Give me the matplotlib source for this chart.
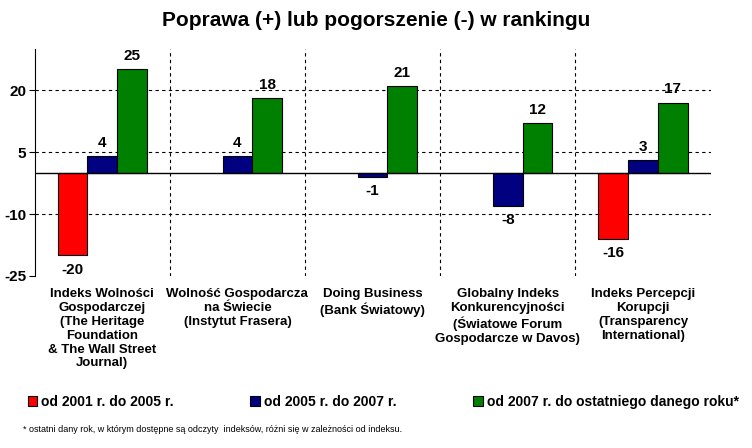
import matplotlib
matplotlib.use('Agg')
import matplotlib.pyplot as plt
import numpy as np

plt.rcParams['font.family'] = ['Liberation Sans', 'DejaVu Sans']

categories = ['Indeks Wolności\nGospodarczej\n(The Heritage\nFoundation\n& The Wall Street\nJournal)',
              'Wolność Gospodarcza\nna Świecie\n(Instytut Frasera)',
              'Doing Business\n(Bank Światowy)',
              'Globalny Indeks\nKonkurencyjności\n(Światowe Forum\nGospodarcze w Davos)',
              'Indeks Percepcji\nKorupcji\n(Transparency\nInternational)']
series_names = ['od 2001 r. do 2005 r.', 'od 2005 r. do 2007 r.',
                'od 2007 r. do ostatniego danego roku*']
s2001 = [-20, None, None, None, -16]
s2005 = [4, 4, -1, -8, 3]
s2007 = [25, 18, 21, 12, 17]
colors = ['#ff0000', '#000080', '#008000']
yticks = [20, 5, -10, -25]

fig = plt.figure(figsize=(7.52, 4.48), dpi=100)
ax = fig.add_axes([0.046, 0.384, 0.899, 0.507])
x = np.arange(len(categories))
w = 0.22
for i, (vals, c, name) in enumerate(zip([s2001, s2005, s2007], colors, series_names)):
    xs = [xi + (i - 1) * w for xi, v in zip(x, vals) if v is not None]
    vs = [v for v in vals if v is not None]
    ax.bar(xs, vs, w, color=c, edgecolor='black', linewidth=0.8, label=name, zorder=3)
    for xx, v in zip(xs, vs):
        ax.text(xx, v + (1.5 if v >= 0 else -1.8), str(v), ha='center',
                va='bottom' if v >= 0 else 'top', fontsize=11, fontweight='bold')

ax.set_xlim(-0.5, len(categories) - 0.5)
ax.set_ylim(-25, 30)
ax.set_yticks(yticks)
ax.set_yticklabels([str(t) for t in yticks], fontsize=11, fontweight='bold')
for t in yticks[:-1]:
    ax.axhline(t, color='black', linestyle=(0, (3, 3)), linewidth=0.8, zorder=1)
for xi in x[:-1]:
    ax.axvline(xi + 0.5, color='black', linestyle=(0, (3, 3)), linewidth=0.8, zorder=1)
ax.axhline(0, color='black', linewidth=1, zorder=4)
ax.set_xticks([])
for s in ['top', 'right', 'bottom']:
    ax.spines[s].set_visible(False)
ax.tick_params(axis='y', length=4, pad=2)
for xi, cat in zip(x, categories):
    ax.text(xi, -28, cat, ha='center', va='top', fontsize=9.5, fontweight='bold',
            linespacing=1.2)

fig.suptitle('Poprawa (+) lub pogorszenie (-) w rankingu', x=0.5, y=0.975,
             fontsize=15, fontweight='bold')
fig.legend(loc='lower left', bbox_to_anchor=(0.02, 0.06), ncol=3, frameon=False,
           handlelength=0.7, handleheight=0.7, columnspacing=5.5, handletextpad=0.3,
           prop={'size': 10, 'weight': 'bold'})
fig.text(0.03, 0.035, '* ostatni dany rok, w którym dostępne są odczyty  indeksów, różni się w zależności od indeksu.',
         fontsize=6.5)
fig.savefig('out.png', dpi=100)
